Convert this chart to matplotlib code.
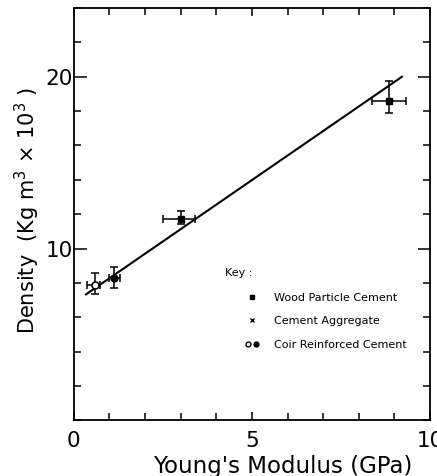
import matplotlib
matplotlib.use("Agg")
import matplotlib.pyplot as plt
from matplotlib.lines import Line2D
from matplotlib.legend_handler import HandlerTuple
from matplotlib.ticker import MultipleLocator

plt.rcParams['font.family'] = ['DejaVu Sans']

# Wood particle cement points
wood_x = [3.0, 8.85]
wood_y = [11.7, 18.6]
wood_xlo = [2.5, 8.37]
wood_xhi = [3.4, 9.32]
wood_ylo = [11.45, 17.9]
wood_yhi = [12.2, 19.77]

# Coir reinforced cement: open and filled
coir_open_x = [0.59]
coir_open_y = [7.9]
coir_open_xlo = [0.37]
coir_open_xhi = [0.73]
coir_open_ylo = [7.38]
coir_open_yhi = [8.6]

coir_fill_x = [1.12]
coir_fill_y = [8.3]
coir_fill_xlo = [0.98]
coir_fill_xhi = [1.29]
coir_fill_ylo = [7.73]
coir_fill_yhi = [8.95]

# Fitted line
fit_x = [0.34, 9.21]
fit_y = [7.33, 20.0]

legend_labels = ["Wood Particle Cement", "Cement Aggregate", "Coir Reinforced Cement"]

fig = plt.figure(figsize=(4.37, 4.76), dpi=100)
ax = fig.add_axes([0.169, 0.117, 0.815, 0.866])

ax.plot(fit_x, fit_y, color='black', lw=1.5, zorder=2)

def errs(v, lo, hi):
    return [[a - b for a, b in zip(v, lo)], [b - a for a, b in zip(v, hi)]]

ekw = dict(ecolor='black', elinewidth=1.1, capsize=3, capthick=1.1, ls='none', zorder=3)
ax.errorbar(wood_x, wood_y, xerr=errs(wood_x, wood_xlo, wood_xhi),
            yerr=errs(wood_y, wood_ylo, wood_yhi), fmt='s', ms=5,
            mfc='black', mec='black', **ekw)
ax.errorbar(coir_open_x, coir_open_y, xerr=errs(coir_open_x, coir_open_xlo, coir_open_xhi),
            yerr=errs(coir_open_y, coir_open_ylo, coir_open_yhi), fmt='o', ms=5,
            mfc='white', mec='black', mew=1.1, **ekw)
ax.errorbar(coir_fill_x, coir_fill_y, xerr=errs(coir_fill_x, coir_fill_xlo, coir_fill_xhi),
            yerr=errs(coir_fill_y, coir_fill_ylo, coir_fill_yhi), fmt='o', ms=5,
            mfc='black', mec='black', **ekw)

ax.set_xlim(0, 10)
ax.set_ylim(0, 24)
ax.xaxis.set_major_locator(MultipleLocator(5))
ax.xaxis.set_minor_locator(MultipleLocator(1))
ax.yaxis.set_minor_locator(MultipleLocator(2))
ax.set_yticks([10, 20])
ax.tick_params(which='both', direction='in', top=True, right=True, width=1.1, color='black')
ax.tick_params(which='minor', length=5)
ax.tick_params(axis='x', which='major', length=6, labelsize=15.5, pad=8)
ax.tick_params(axis='y', which='major', length=9, labelsize=15.5, pad=1)
for s in ax.spines.values():
    s.set_linewidth(1.3)

ax.set_xlabel("Young's Modulus (GPa)", fontsize=16.5)
ax.xaxis.set_label_coords(0.587, -0.083)
ax.set_ylabel("Density  (Kg m$^{3}$ × 10$^{3}$ )", fontsize=15)
ax.yaxis.set_label_coords(-0.09, 0.51)

ax.text(0.424, 0.357, "Key :", transform=ax.transAxes, fontsize=8, ha='left', va='center')

h_wood = Line2D([], [], marker='s', ms=3.5, color='black', ls='none')
h_agg = Line2D([], [], marker='x', ms=3.5, color='black', ls='none', mew=1)
h_co = Line2D([], [], marker='o', ms=3.5, mfc='white', mec='black', ls='none')
h_cf = Line2D([], [], marker='o', ms=3.5, color='black', ls='none')
ax.legend([h_wood, h_agg, (h_co, h_cf)], legend_labels,
          handler_map={tuple: HandlerTuple(ndivide=2, pad=0)},
          loc='upper left', bbox_to_anchor=(0.478, 0.309), frameon=False,
          fontsize=8, handlelength=1.44, handletextpad=1.26, labelspacing=1.2,
          borderpad=0, borderaxespad=0)

fig.savefig("out.png", dpi=100, facecolor='white')
